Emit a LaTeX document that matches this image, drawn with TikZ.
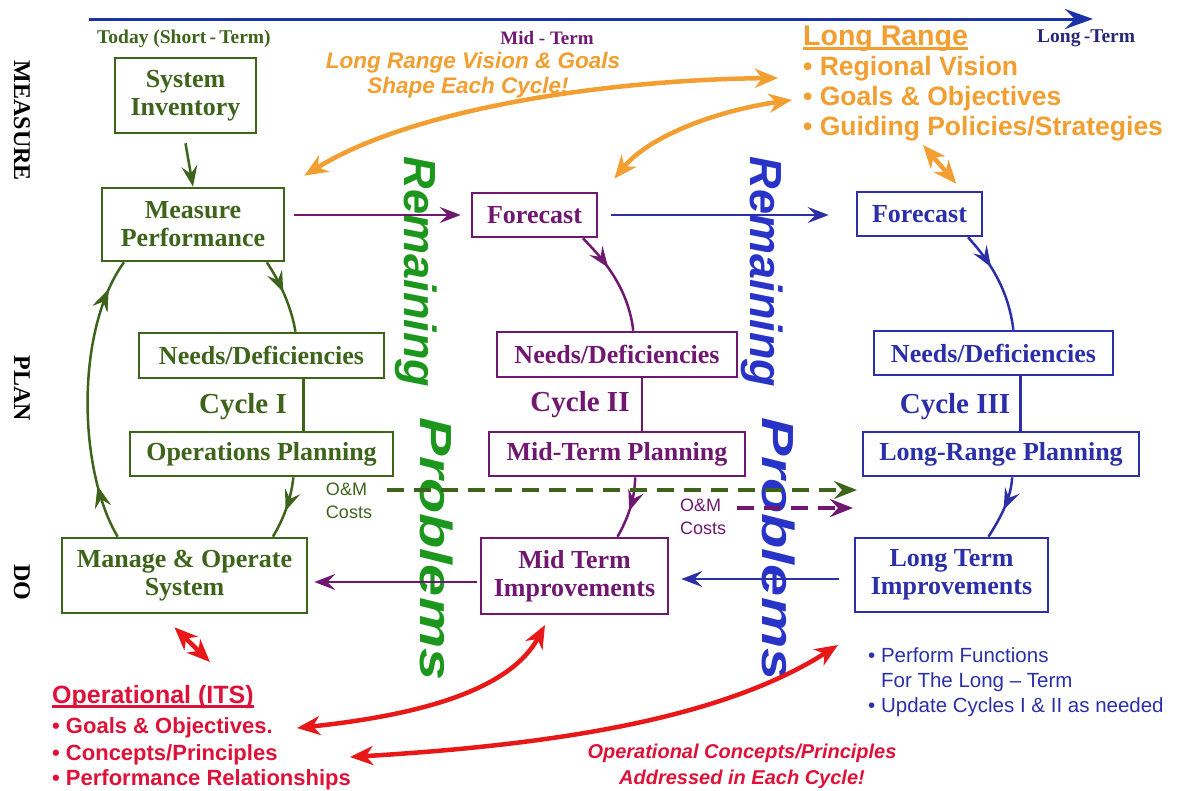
\documentclass[tikz,border=0pt]{standalone}
\usepackage{fontspec}
\setmainfont{Liberation Serif}
\newfontfamily\arialf{Liberation Sans}
\usepackage{graphicx}
\usetikzlibrary{arrows.meta,calc,decorations.markings}

\definecolor{cgreen}{RGB}{62,100,28}
\definecolor{cpurple}{RGB}{112,24,112}
\definecolor{cblue}{RGB}{44,48,168}
\definecolor{caxis}{RGB}{28,48,168}
\definecolor{cnavy}{RGB}{40,40,120}
\definecolor{corange}{RGB}{242,158,48}
\definecolor{cred}{RGB}{222,18,56}
\definecolor{carrowred}{RGB}{232,24,24}
\definecolor{cbrightgreen}{RGB}{28,150,28}
\definecolor{cbrightblue}{RGB}{40,52,200}

\newcommand\fsz[2]{\fontsize{#1}{#2}\selectfont}
% text with a heavy underline
\newcommand\ulbar[1]{\setbox0\hbox{#1}\rlap{\rule[-4.5pt]{\wd0}{2.2pt}}\box0}

\tikzset{
  >={Stealth[length=21pt,width=16pt,inset=8pt]},
  bigtip/.tip={Stealth[length=23pt,width=19pt,inset=7pt]},
  box/.style={draw, line width=2.6pt, inner sep=0pt, align=center, font=\bfseries\fsz{26}{28}},
  gbox/.style={box, draw=cgreen, text=cgreen},
  pbox/.style={box, draw=cpurple, text=cpurple},
  bbox/.style={box, draw=cblue, text=cblue},
  link/.style={line width=2.5pt},
  midarrow/.style={postaction={decorate}, decoration={markings, mark=at position #1 with {\arrow{>}}}},
  cyclelabel/.style={font=\bfseries\fsz{29}{32}},
  sidelabel/.style={rotate=-90, font=\bfseries\fsz{24}{26}},
  bigword/.style={rotate=-90, anchor=base, inner sep=0pt, font=\arialf\bfseries\itshape\fsz{45}{50}},
  cost/.style={dash pattern=on 17pt off 10pt, line width=3.6pt, -{Stealth[length=23pt,width=18pt,inset=8pt]}},
  costlabel/.style={font=\arialf\fsz{18}{23}, align=left, inner sep=0pt},
  twoway/.style={line width=4.5pt, arrows={bigtip-bigtip}},
  plain/.style={anchor=base west, inner sep=0pt},
}

\begin{document}
\begin{tikzpicture}[x=1pt,y=-1pt]
\useasboundingbox (0,0) rectangle (1177,790);
\fill[white] (0,0) rectangle (1177,790);

% ---------- time axis ----------
\coordinate (ax0) at (89,19);
\coordinate (ax1) at (1093,19);
\draw[caxis, line width=3pt, -{Stealth[length=28pt,width=20pt,inset=10pt]}] (ax0) -- (ax1);
\node[plain, text=cgreen, font=\bfseries\fsz{19.5}{21}] (today) at (97,43) {Today (Short\,-\,Term)};
\node[anchor=base, inner sep=0pt, text=cpurple, font=\bfseries\fsz{19}{21}] (midterm) at (547,44) {Mid - Term};
\node[plain, text=cnavy, font=\bfseries\fsz{19.5}{21}] (longterm) at (1037,42) {Long\,-Term};

% ---------- row labels ----------
\node[sidelabel] (smeasure) at (22,121) {MEASURE};
\node[sidelabel] (splan) at (22,388) {PLAN};
\node[sidelabel] (sdo) at (22,582) {DO};

% ---------- long range block ----------
\node[plain, text=corange, font=\arialf\bfseries\fsz{28.5}{30}] (lr) at (803,45) {\ulbar{Long Range}};
\node[plain, text=corange, font=\arialf\bfseries\fsz{26.5}{30}] (lr1) at (803,75) {\textbullet\ Regional Vision};
\node[plain, text=corange, font=\arialf\bfseries\fsz{26.5}{30}] (lr2) at (803,105) {\textbullet\ Goals \& Objectives};
\node[plain, text=corange, font=\arialf\bfseries\fsz{26.5}{30}] (lr3) at (803,135) {\textbullet\ Guiding Policies/Strategies};

\node[anchor=base, inner sep=0pt, text=corange, font=\arialf\bfseries\itshape\fsz{22.5}{25}] (vis1) at (473,68) {Long Range Vision \& Goals};
\node[anchor=base, inner sep=0pt, text=corange, font=\arialf\bfseries\itshape\fsz{22.5}{25}] (vis2) at (468,93) {Shape Each Cycle!};

% ---------- big vertical words ----------
\node[bigword, text=cbrightgreen] (rem1) at (404,272) {Remaining};
\node[bigword, text=cbrightgreen] (prob1) at (420,549) {\scalebox{1.28}[1]{Problems}};
\node[bigword, text=cbrightblue] (rem2) at (750,272) {Remaining};
\node[bigword, text=cbrightblue] (prob2) at (762,549) {\scalebox{1.28}[1]{Problems}};

% ---------- Cycle I ----------
\node[gbox, minimum width=141pt, minimum height=75pt] (inv) at (185.5,95.5) {System\\Inventory};
\node[gbox, minimum width=182pt, minimum height=73pt] (meas) at (193,224.5) {Measure\\Performance};
\node[gbox, minimum width=245pt, minimum height=45pt] (needs1) at (261.5,355.5) {Needs/Deficiencies};
\node[gbox, minimum width=263pt, minimum height=44pt] (ops) at (261.5,454) {Operations Planning};
\node[gbox, minimum width=245pt, minimum height=75pt] (manage) at (184.5,575.5) {Manage \& Operate\\System};
\node[cyclelabel, text=cgreen] (cyc1) at (243,407) {Cycle I};

% ---------- Cycle II ----------
\node[pbox, minimum width=125pt, minimum height=44pt] (fc2) at (534.5,215) {Forecast};
\node[pbox, minimum width=240pt, minimum height=45pt] (needs2) at (617,354.5) {Needs/Deficiencies};
\node[pbox, minimum width=256pt, minimum height=44pt] (mtp) at (617,454) {Mid-Term Planning};
\node[pbox, minimum width=187pt, minimum height=76pt] (mti) at (574.5,576) {Mid Term\\Improvements};
\node[cyclelabel, text=cpurple] (cyc2) at (580,405) {Cycle II};

% ---------- Cycle III ----------
\node[bbox, minimum width=125pt, minimum height=44pt] (fc3) at (919.5,214) {Forecast};
\node[bbox, minimum width=239pt, minimum height=44pt] (needs3) at (993.5,353) {Needs/Deficiencies};
\node[bbox, minimum width=276pt, minimum height=44pt] (lrp) at (1001,454) {Long-Range Planning};
\node[bbox, minimum width=193pt, minimum height=74pt] (lti) at (951.5,575) {Long Term\\Improvements};
\node[cyclelabel, text=cblue] (cyc3) at (955,407) {Cycle III};

% ---------- Cycle I loop ----------
\draw[link, cgreen, ->] ($(inv.south)+(0,9)$) -- (meas.north);
\draw[link, cgreen, midarrow=0.45]
  ($(meas.south west)!0.9!(meas.south east)$) .. controls (282,285) and (292,310) ..
  ($(needs1.north west)!0.637!(needs1.north east)$);
\coordinate (v1) at ($(needs1.south west)!0.669!(needs1.south east)$);
\draw[link, cgreen] (v1) -- (v1 |- ops.north);
\draw[link, cgreen, midarrow=0.55]
  ($(ops.south west)!0.62!(ops.south east)$) .. controls (291,500) and (283,520) ..
  ($(manage.north west)!0.857!(manage.north east)$);
\draw[link, cgreen, midarrow=0.19, midarrow=0.89]
  ($(manage.north west)!0.23!(manage.north east)$) .. controls (78,470) and (75,330) ..
  ($(meas.south west)!0.126!(meas.south east)$);

% ---------- Cycle II loop ----------
\draw[link, cpurple, ->] ($(meas.east |- fc2.west)+(9,0)$) -- ($(fc2.west)+(-10,0)$);
\draw[link, cpurple, midarrow=0.36]
  ($(fc2.south west)!0.88!(fc2.south east)$) .. controls (600,256) and (628,285) ..
  ($(needs2.north west)!0.567!(needs2.north east)$);
\coordinate (v2) at ($(needs2.south west)!0.604!(needs2.south east)$);
\draw[link, cpurple] (v2) -- (v2 |- mtp.north);
\draw[link, cpurple, midarrow=0.55]
  ($(mtp.south west)!0.57!(mtp.south east)$) .. controls (635,500) and (627,520) ..
  ($(mti.north west)!0.727!(mti.north east)$);
\draw[link, cpurple, ->] ($(mti.west)+(-3,6)$) -- ($(manage.east |- mti.west)+(6,6)$);

% ---------- Cycle III loop ----------
\draw[link, cblue, ->] ($(fc2.east)+(13,0)$) -- ($(fc3.west |- fc2.east)+(-27,0)$);
\draw[link, cblue, midarrow=0.36]
  ($(fc3.south west)!0.88!(fc3.south east)$) .. controls (985,256) and (1008,285) ..
  ($(needs3.north west)!0.582!(needs3.north east)$);
\coordinate (v3) at ($(needs3.south west)!0.611!(needs3.south east)$);
\draw[link, cblue] (v3) -- (v3 |- lrp.north);
\draw[link, cblue, midarrow=0.52]
  ($(lrp.south west)!0.54!(lrp.south east)$) .. controls (1011,500) and (999,520) ..
  ($(lti.north west)!0.689!(lti.north east)$);
\draw[link, cblue, ->] ($(lti.west)+(-15,4)$) -- ($(mti.east |- lti.west)+(12,4)$);

% ---------- O&M costs ----------
\node[costlabel, text=cgreen] (om1) at (349,501) {O\&M\\Costs};
\node[costlabel, text=cpurple] (om2) at (703,517) {O\&M\\Costs};
\coordinate (gend) at (857,490);
\coordinate (pend) at (853,508);
\draw[cost, cgreen] ($(om1.east)+(15,-11)$) -- (gend);
\draw[cost, cpurple] ($(om2.east)+(11,-9)$) -- (pend);

% ---------- long range influence ----------
\coordinate (oa1) at (778,78);
\coordinate (oa2) at ($(meas.north east)+(19,-11)$);
\coordinate (ob1) at (792,100);
\coordinate (ob2) at ($(fc2.north east)+(16,-13)$);
\coordinate (oc1) at (923,145);
\coordinate (oc2) at ($(fc3.north east)+(-27,-7)$);
\draw[twoway, corange] (oa1) .. controls (600,80) and (410,110) .. (oa2);
\draw[twoway, corange] (ob1) .. controls (720,110) and (650,135) .. (ob2);
\draw[twoway, corange] (oc1) -- (oc2);

% ---------- operational block ----------
\node[plain, text=cred, font=\arialf\bfseries\fsz{25}{26}] (its) at (52,703) {\ulbar{Operational (ITS)}};
\node[plain, text=cred, font=\arialf\bfseries\fsz{22}{26}] (its1) at (52,733) {\textbullet\ Goals \& Objectives.};
\node[plain, text=cred, font=\arialf\bfseries\fsz{22}{26}] (its2) at (52,760) {\textbullet\ Concepts/Principles};
\node[plain, text=cred, font=\arialf\bfseries\fsz{22}{26}] (its3) at (52,785) {\textbullet\ Performance Relationships};

\node[anchor=base, inner sep=0pt, text=cred, font=\arialf\bfseries\itshape\fsz{20}{24}] (adr1) at (742,758) {Operational Concepts/Principles};
\node[anchor=base, inner sep=0pt, text=cred, font=\arialf\bfseries\itshape\fsz{20}{24}] (adr2) at (742,784) {Addressed in Each Cycle!};

\node[plain, text=cblue, font=\arialf\fsz{20.5}{25}] (pf1) at (868,662) {\textbullet\ Perform Functions};
\node[plain, text=cblue, font=\arialf\fsz{20.5}{25}] (pf2) at (868,687) {\phantom{\textbullet}\ For The Long – Term};
\node[plain, text=cblue, font=\arialf\fsz{20.5}{25}] (pf3) at (868,712) {\textbullet\ Update Cycles I \& II as needed};

\coordinate (ra1) at ($(manage.south)+(-10,13)$);
\coordinate (ra2) at (210,662);
\coordinate (rb1) at (297,728);
\coordinate (rb2) at (545,625);
\coordinate (rc1) at (350,757);
\coordinate (rc2) at (838,645);
\draw[twoway, carrowred] (ra1) -- (ra2);
\draw[twoway, carrowred] (rb1) .. controls (420,715) and (510,690) .. (rb2);
\draw[twoway, carrowred] (rc1) .. controls (550,745) and (720,720) .. (rc2);
\end{tikzpicture}
\end{document}
